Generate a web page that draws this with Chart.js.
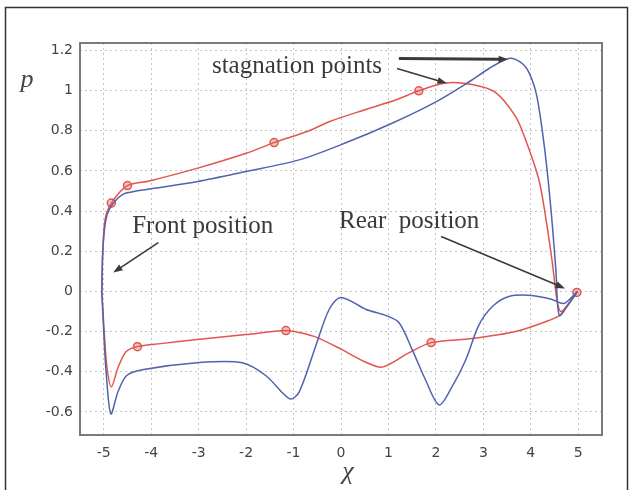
<!DOCTYPE html>
<html>
<head>
<meta charset="utf-8">
<script src="https://cdn.jsdelivr.net/npm/chart.js@4.4.1/dist/chart.umd.min.js"></script>
<style>
  html, body { margin: 0; padding: 0; background: #fff; }
  #wrap { width: 630px; height: 490px; position: relative; }
</style>
</head>
<body>
<div id="wrap"><canvas id="myChart" width="630" height="490"></canvas></div>
<script>
// red curve (with circle markers)
const redX = [-5.04, -5.02, -4.97, -4.84, -4.5, -4.04, -3.02, -2.0, -1.41, -0.67, -0.25, 0.44, 1.15, 1.64, 2.2, 2.76, 3.26, 3.68, 3.89, 4.17, 4.31, 4.45, 4.55, 4.63, 4.8, 4.97,
              4.63, 4.38, 3.68, 2.76, 1.9, 1.4, 0.87, 0.5, 0.02, -0.5, -0.88, -1.16, -2.0, -3.03, -3.8, -4.29, -4.53, -4.7, -4.84, -4.93, -4.99, -5.04]
const redY = [0.0, 0.2, 0.36, 0.44, 0.527, 0.55, 0.614, 0.688, 0.741, 0.8, 0.845, 0.9, 0.953, 0.999, 1.038, 1.03, 0.99, 0.87, 0.755, 0.556, 0.374, 0.15, -0.04, -0.1, -0.06, -0.005,
              -0.115, -0.145, -0.2, -0.235, -0.255, -0.31, -0.377, -0.35, -0.29, -0.23, -0.205, -0.195, -0.215, -0.24, -0.26, -0.275, -0.3, -0.38, -0.476, -0.38, -0.2, 0.0]
const redMarkX = [-4.84, -4.5, -1.41, 1.64, 4.97, 1.9, -1.16, -4.29]
const redMarkY = [0.44, 0.527, 0.741, 0.999, -0.005, -0.255, -0.195, -0.275]

// blue curve
const blueX = [-5.04, -5.02, -4.96, -4.88, -4.7, -4.53, -4.04, -3.02, -2.0, -0.88, 0.1, 1.1, 2.0, 2.7, 3.12, 3.47, 3.65, 3.89, 4.03, 4.13, 4.24, 4.35, 4.45, 4.53, 4.6, 4.8, 4.98,
               4.7, 4.45, 4.02, 3.54, 3.19, 2.9, 2.63, 2.35, 2.07, 1.78, 1.5, 1.22, 0.95, 0.53, 0.0, -0.25, -0.53, -0.88, -1.08, -1.58, -2.08, -3.03, -4.19, -4.52, -4.7, -4.85, -4.95, -5.0, -5.04]
const blueY = [0.0, 0.2, 0.35, 0.41, 0.465, 0.49, 0.51, 0.547, 0.597, 0.655, 0.74, 0.84, 0.944, 1.044, 1.11, 1.155, 1.158, 1.118, 1.052, 0.969, 0.804, 0.589, 0.34, 0.1, -0.12, -0.06, 0.0,
               -0.06, -0.04, -0.02, -0.025, -0.075, -0.17, -0.34, -0.47, -0.565, -0.44, -0.29, -0.155, -0.12, -0.09, -0.03, -0.09, -0.27, -0.5, -0.535, -0.42, -0.355, -0.355, -0.39, -0.42, -0.5, -0.61, -0.4, -0.2, 0.0]

const xTicks = [-5, -4, -3, -2, -1, 0, 1, 2, 3, 4, 5]
const yTicks = [-0.6, -0.4, -0.2, 0, 0.2, 0.4, 0.6, 0.8, 1, 1.2]

// annotation texts + arrows, in data units
const notes = [
    {text: "stagnation points", x: -2.72, y: 1.087},
    {text: "Front position", x: -4.4, y: 0.293},
    {text: "Rear  position", x: -0.04, y: 0.318}
]
const arrows = [
    {x1: 1.22, y1: 1.16, x2: 3.52, y2: 1.156, w: 3},
    {x1: 1.18, y1: 1.11, x2: 2.23, y2: 1.037, w: 1.6},
    {x1: -3.85, y1: 0.243, x2: -4.8, y2: 0.094, w: 1.6},
    {x1: 2.11, y1: 0.273, x2: 4.72, y2: 0.015, w: 1.6}
]

const red = "#e0564e"
const blue = "#5262ad"

const toPts = (xs, ys) => xs.map((x, i) => ({x: x, y: ys[i]}))

const extras = {
    id: "extras",
    afterDraw(chart){
        const ctx = chart.ctx
        const a = chart.chartArea
        const sx = chart.scales.x, sy = chart.scales.y
        ctx.save()
        // plot frame
        ctx.strokeStyle = "#7a7a7a"
        ctx.lineWidth = 2
        ctx.strokeRect(a.left, a.top, a.right - a.left, a.bottom - a.top)
        // outer border
        ctx.strokeStyle = "#333"
        ctx.lineWidth = 1.5
        ctx.strokeRect(5.5, 7.5, 622, 495)
        // axis titles
        ctx.fillStyle = "#444"
        ctx.font = "italic 26px 'Liberation Serif'"
        ctx.textAlign = "center"
        ctx.textBaseline = "middle"
        ctx.fillText("p", 27, 80)
        ctx.fillText("χ", 348, 472)
        // notes
        ctx.fillStyle = "#3a3a3a"
        ctx.font = "25px 'Liberation Serif'"
        ctx.textAlign = "left"
        ctx.textBaseline = "alphabetic"
        notes.forEach(n => ctx.fillText(n.text, sx.getPixelForValue(n.x), sy.getPixelForValue(n.y)))
        // arrows
        ctx.strokeStyle = "#3a3a3a"
        ctx.fillStyle = "#3a3a3a"
        arrows.forEach(ar => {
            const x1 = sx.getPixelForValue(ar.x1), y1 = sy.getPixelForValue(ar.y1)
            const x2 = sx.getPixelForValue(ar.x2), y2 = sy.getPixelForValue(ar.y2)
            const ang = Math.atan2(y2 - y1, x2 - x1)
            const hl = 10
            ctx.lineWidth = ar.w
            ctx.beginPath()
            ctx.moveTo(x1, y1)
            ctx.lineTo(x2 - Math.cos(ang) * hl * 0.8, y2 - Math.sin(ang) * hl * 0.8)
            ctx.stroke()
            ctx.beginPath()
            ctx.moveTo(x2, y2)
            ctx.lineTo(x2 - hl * Math.cos(ang - 0.35), y2 - hl * Math.sin(ang - 0.35))
            ctx.lineTo(x2 - hl * Math.cos(ang + 0.35), y2 - hl * Math.sin(ang + 0.35))
            ctx.closePath()
            ctx.fill()
        })
        ctx.restore()
    }
}

const ctx = document.getElementById("myChart").getContext("2d")
const myChart = new Chart(ctx, {
    type: "scatter",
    data: {
        datasets: [
            {
                label: "blue",
                data: toPts(blueX, blueY),
                showLine: true,
                borderColor: blue,
                borderWidth: 1.5,
                pointRadius: 0,
                tension: 0.3
            },
            {
                label: "red",
                data: toPts(redX, redY),
                showLine: true,
                borderColor: red,
                borderWidth: 1.5,
                pointRadius: 0,
                tension: 0.3
            },
            {
                label: "red markers",
                data: toPts(redMarkX, redMarkY),
                showLine: false,
                pointRadius: 4,
                pointBorderWidth: 1.5,
                pointBorderColor: red,
                pointBackgroundColor: "rgba(224,86,78,0.35)"
            }
        ]
    },
    options: {
        responsive: false,
        animation: false,
        layout: {padding: {left: 0, top: 43, right: 28, bottom: 0}},
        plugins: {legend: {display: false}, tooltip: {enabled: false}},
        scales: {
            x: {
                type: "linear",
                min: -5.5,
                max: 5.5,
                afterBuildTicks: s => { s.ticks = xTicks.map(v => ({value: v})) },
                afterFit: s => { s.height = 55 },
                grid: {color: "#c4c4c4", drawTicks: false, lineWidth: 1},
                border: {display: false, dash: [2, 3]},
                ticks: {color: "#444", padding: 10, font: {family: "DejaVu Sans", size: 14}}
            },
            y: {
                type: "linear",
                min: -0.715,
                max: 1.237,
                afterBuildTicks: s => { s.ticks = yTicks.map(v => ({value: v})) },
                afterFit: s => { s.width = 80 },
                grid: {color: "#c4c4c4", drawTicks: false, lineWidth: 1},
                border: {display: false, dash: [2, 3]},
                ticks: {color: "#444", padding: 7, font: {family: "DejaVu Sans", size: 14},
                        callback: v => String(+v.toFixed(1))}
            }
        }
    },
    plugins: [extras]
})
</script>
</body>
</html>
